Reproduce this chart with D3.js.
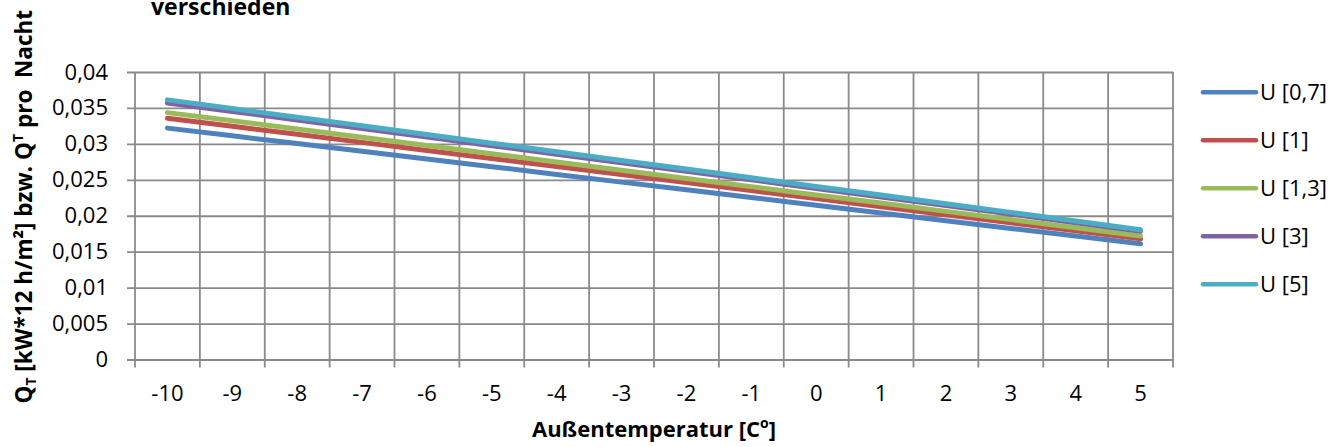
<!DOCTYPE html>
<html>
<head>
<meta charset="utf-8">
<script src="https://cdn.jsdelivr.net/npm/d3@7"></script>
<style>
  html, body { margin: 0; padding: 0; background: #fff; }
  svg { display: block; }
  text { font-family: "Open Sans", "Liberation Sans", sans-serif; fill: #000; }
</style>
</head>
<body>
<svg id="chart" width="1333" height="447"></svg>
<script>
const categories = ["-10","-9","-8","-7","-6","-5","-4","-3","-2","-1","0","1","2","3","4","5"];
const yTicks = [0, 0.005, 0.01, 0.015, 0.02, 0.025, 0.03, 0.035, 0.04];
const yTickLabels = ["0","0,005","0,01","0,015","0,02","0,025","0,03","0,035","0,04"];
const seriesNames = ["U [0,7]", "U [1]", "U [1,3]", "U [3]", "U [5]"];
const seriesColors = ["#4F81BD", "#C0504D", "#9BBB59", "#8064A2", "#4BACC6"];
const u07 = [0.03219,0.03112,0.03004,0.02897,0.02790,0.02683,0.02575,0.02468,0.02361,0.02253,0.02146,0.02039,0.01931,0.01824,0.01717,0.01610];
const u1  = [0.03357,0.03245,0.03133,0.03021,0.02909,0.02798,0.02686,0.02574,0.02462,0.02350,0.02238,0.02126,0.02014,0.01902,0.01790,0.01679];
const u13 = [0.03435,0.03321,0.03206,0.03092,0.02977,0.02863,0.02748,0.02634,0.02519,0.02405,0.02290,0.02176,0.02061,0.01947,0.01832,0.01718];
const u3  = [0.03570,0.03451,0.03332,0.03213,0.03094,0.02975,0.02856,0.02737,0.02618,0.02499,0.02380,0.02261,0.02142,0.02023,0.01904,0.01785];
const u5  = [0.03612,0.03492,0.03371,0.03251,0.03130,0.03010,0.02890,0.02769,0.02649,0.02528,0.02408,0.02288,0.02167,0.02047,0.01926,0.01806];
const seriesValues = [u07, u1, u13, u3, u5];

(function () {
const svg = d3.select("#chart");
const pL = 135, pR = 1173, pT = 72, pB = 359.5;
const grid = "#8a8a8a";
const fs = "22px";

const x = d3.scaleBand().domain(categories).range([pL, pR]).padding(0);
const y = d3.scaleLinear().domain([0, 0.04]).range([pB, pT]);

// horizontal gridlines + y ticks
const yAxis = d3.axisLeft(y).tickValues(yTicks)
  .tickFormat((d, i) => yTickLabels[i])
  .tickSize(-(pR - pL)).tickPadding(27);
const gy = svg.append("g").attr("transform", `translate(${pL},0)`).call(yAxis);
gy.select(".domain").remove();
gy.selectAll(".tick line").attr("stroke", grid).attr("stroke-width", 1.8).attr("x1", -8);
gy.selectAll(".tick text").style("font-size", fs).attr("fill", "#000");

// vertical gridlines at category boundaries
const bounds = categories.map(c => x(c)).concat([pR]);
svg.append("g").selectAll("line").data(bounds).join("line")
  .attr("x1", d => d).attr("x2", d => d)
  .attr("y1", pT).attr("y2", pB + 8)
  .attr("stroke", grid).attr("stroke-width", 1.8);

// x axis labels
const xAxis = d3.axisBottom(x).tickSize(0).tickPadding(26);
const gx = svg.append("g").attr("transform", `translate(0,${pB})`).call(xAxis);
gx.select(".domain").remove();
gx.selectAll(".tick text").style("font-size", fs).attr("fill", "#000");

// lines
const line = d3.line().x((d, i) => x(categories[i]) + x.bandwidth() / 2).y(d => y(d));
svg.append("g").selectAll("path").data(seriesValues).join("path")
  .attr("d", d => line(d))
  .attr("fill", "none")
  .attr("stroke", (d, i) => seriesColors[i])
  .attr("stroke-width", 5)
  .attr("stroke-linecap", "round")
  .attr("stroke-linejoin", "round");

// legend
const lg = svg.append("g");
seriesNames.forEach((n, i) => {
  const ly = 92.3 + i * 48;
  lg.append("line").attr("x1", 1203).attr("x2", 1256).attr("y1", ly).attr("y2", ly)
    .attr("stroke", seriesColors[i]).attr("stroke-width", 4.5).attr("stroke-linecap", "round");
  lg.append("text").attr("x", 1260).attr("y", ly).attr("dy", "0.36em")
    .style("font-size", fs).text(n);
});

// title (second line visible)
svg.append("text").attr("x", 151).attr("y", 15)
  .style("font-size", "23px").style("font-weight", "bold").text("verschieden");

// y axis title
const yt = svg.append("text")
  .attr("transform", `translate(32,${(pT + pB) / 2 - 9}) rotate(-90)`)
  .attr("text-anchor", "middle")
  .style("font-size", "22.5px").style("font-weight", "bold");
yt.append("tspan").text("Q");
yt.append("tspan").attr("baseline-shift", "-25%").style("font-size", "14px").text("T");
yt.append("tspan").text(" [kW*12 h/m²] bzw. Q");
yt.append("tspan").attr("baseline-shift", "super").style("font-size", "14px").text("T");
yt.append("tspan").text(" pro\u00a0 Nacht");

// x axis title
const xt = svg.append("text").attr("x", (pL + pR) / 2).attr("y", 437)
  .attr("text-anchor", "middle").style("font-size", "22px").style("font-weight", "bold");
xt.append("tspan").text("Außentemperatur [C");
xt.append("tspan").attr("baseline-shift", "super").style("font-size", "14px").text("o");
xt.append("tspan").text("]");
})();
</script>
</body>
</html>
